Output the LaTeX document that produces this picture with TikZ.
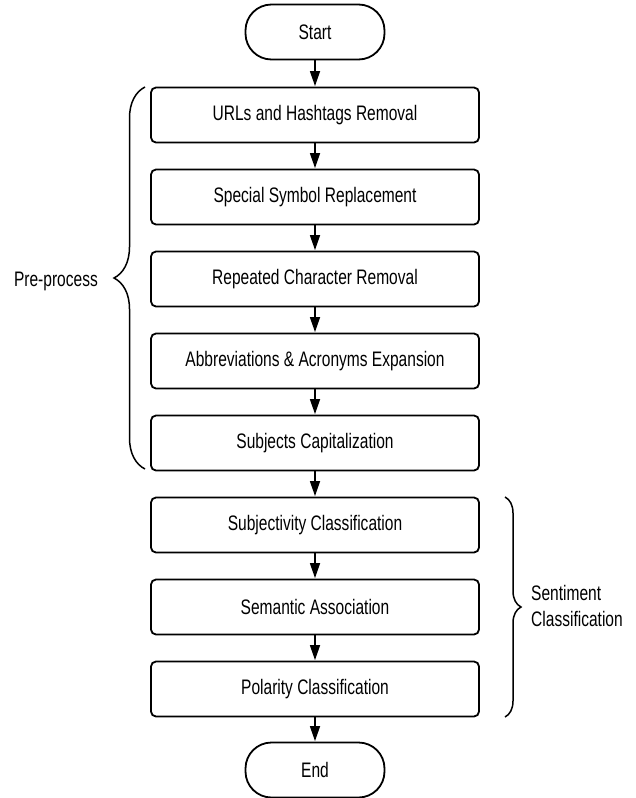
\documentclass[tikz,border=0pt]{standalone}
\usepackage{fontspec}
\setmainfont{Liberation Sans}[FakeStretch=0.74]
\usetikzlibrary{arrows.meta,decorations.pathreplacing}
\begin{document}
\begin{tikzpicture}[x=1pt,y=-1pt,
  font=\fontsize{21}{25}\selectfont,
  procbox/.style={draw,line width=1.8pt,rounded corners=5pt,minimum width=328pt,minimum height=55pt,inner sep=0pt},
  termbox/.style={draw,line width=1.8pt,rounded corners=26pt,minimum width=139pt,minimum height=55pt,inner sep=0pt},
  flow/.style={line width=1.6pt,-{Triangle[length=15pt,width=10pt]},shorten >=0.5pt},
  bracestyle/.style={line width=1.5pt,decorate}]
\useasboundingbox (0,0) rectangle (635,798);
\node[termbox] (start) at (315,32) {Start};
\node[procbox] (b1) at (315,115) {URLs and Hashtags Removal};
\node[procbox] (b2) at (315,197) {Special Symbol Replacement};
\node[procbox] (b3) at (315,279) {Repeated Character Removal};
\node[procbox] (b4) at (315,361) {Abbreviations \& Acronyms Expansion};
\node[procbox] (b5) at (315,443) {Subjects Capitalization};
\node[procbox] (b6) at (315,525) {Subjectivity Classification};
\node[procbox] (b7) at (315,607) {Semantic Association};
\node[procbox] (b8) at (315,689) {Polarity Classification};
\node[termbox] (end) at (315,770) {End};
\draw[flow] (start) -- (b1);
\draw[flow] (b1) -- (b2);
\draw[flow] (b2) -- (b3);
\draw[flow] (b3) -- (b4);
\draw[flow] (b4) -- (b5);
\draw[flow] (b5) -- (b6);
\draw[flow] (b6) -- (b7);
\draw[flow] (b7) -- (b8);
\draw[flow] (b8) -- (end);
\coordinate (lb1) at (145,469);
\coordinate (lb2) at (145,87);
\draw[bracestyle,decoration={brace,amplitude=31pt}] (lb1) -- (lb2);
\node[anchor=east,inner sep=0pt] (pre) at (98,281) {Pre-process};
\coordinate (rb1) at (505,497);
\coordinate (rb2) at (505,717);
\draw[bracestyle,decoration={brace,amplitude=16pt}] (rb1) -- (rb2);
\node[anchor=west,inner sep=0pt,align=left,font=\fontsize{21}{26}\selectfont] (sent) at (531,606) {Sentiment\\Classification};
\end{tikzpicture}
\end{document}
